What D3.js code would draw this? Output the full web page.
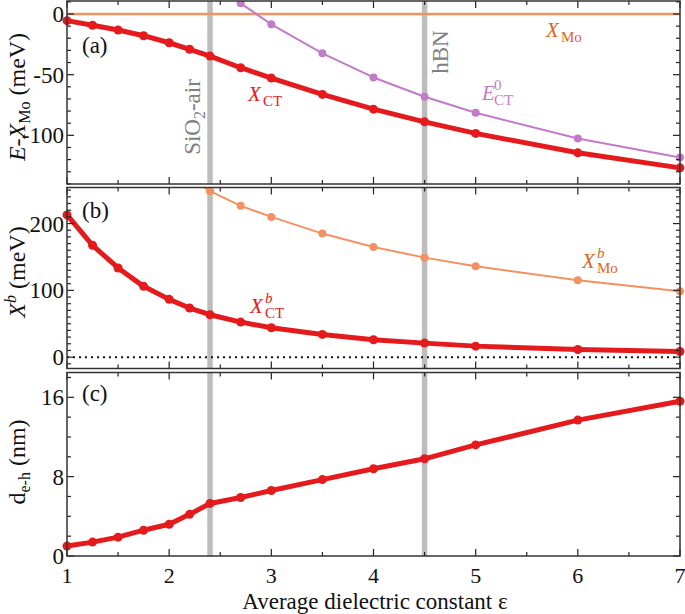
<!DOCTYPE html>
<html><head><meta charset="utf-8">
<script src="https://cdn.jsdelivr.net/npm/d3@7"></script>
<style>
html,body{margin:0;padding:0;background:#fff;}
svg{display:block;font-family:"Liberation Serif","DejaVu Serif",serif;}
</style></head>
<body><svg id="c" width="685" height="614"></svg>
<script>
// ---- data ----
const eps = [1, 1.25, 1.5, 1.75, 2, 2.2, 2.4, 2.7, 3, 3.5, 4, 4.5, 5, 6, 7];
const xCT = [-5.5, -9.3, -13.2, -17.9, -23.7, -29.1, -34.7, -44.3, -52.8, -66.3, -78.4, -88.9, -98.4, -114.4, -126.8];
const eCT0Eps = [2.4, 2.7, 3, 3.5, 4, 4.5, 5, 6, 7];
const eCT0 = [28, 8.8, -8.5, -32.4, -52.3, -68.2, -81.4, -102.6, -118.3];
const xMo = 0;
const xCTb = [213, 167.5, 133.5, 106, 86.5, 73.5, 63.5, 52.5, 44, 34, 26, 21, 16.5, 11.5, 8.5];
const xMobEps = [2.2, 2.4, 2.7, 3, 3.5, 4, 4.5, 5, 6, 7];
const xMob = [268, 248.5, 226.5, 210, 185, 165, 149, 136, 115, 98.5];
const dEH = [1.0, 1.4, 1.9, 2.6, 3.2, 4.2, 5.3, 5.9, 6.6, 7.7, 8.8, 9.8, 11.2, 13.7, 15.6];
const substrates = [2.4, 4.5];
const xTicks = [1, 2, 3, 4, 5, 6, 7];
const xMinor = [1.5, 2.5, 3.5, 4.5, 5.5, 6.5];
const yTicksA = [-100, -50, 0];
const yTicksB = [0, 100, 200];
const yTicksC = [0, 8, 16];

// ---- layout ----
const svg = d3.select("#c");
const L = 67, R = 680;
const x = d3.scaleLinear().domain([1, 7]).range([L, R]);
const red = "#e41a1c", purple = "#c27bc9", orange = "#f29263", orangeTxt = "#e0651b", gray = "#bdbdbd";

const panels = [
  {id: "a", top: 1, bottom: 184, dom: [-140.1, 10.7], major: yTicksA, minorStep: 10, lab: "(a)", labY: 53},
  {id: "b", top: 187.5, bottom: 368.5, dom: [-17, 254], major: yTicksB, minorStep: 10, lab: "(b)", labY: 218},
  {id: "c", top: 372.5, bottom: 556, dom: [0, 18.5], major: yTicksC, minorStep: 2, lab: "(c)", labY: 401}
];
panels.forEach(p => { p.y = d3.scaleLinear().domain(p.dom).range([p.bottom, p.top]); });

const defs = svg.append("defs");
panels.forEach(p => {
  defs.append("clipPath").attr("id", "clip" + p.id).append("rect")
    .attr("x", L - 8).attr("y", p.top).attr("width", R - L + 16).attr("height", p.bottom - p.top);
});

function panelBase(p) {
  const g = svg.append("g");
  g.selectAll(".band").data(substrates).enter().append("line")
    .attr("x1", d => x(d)).attr("x2", d => x(d)).attr("y1", p.top).attr("y2", p.bottom)
    .attr("stroke", gray).attr("stroke-width", 5.5);
  return g;
}
function panelFrame(p) {
  const g = svg.append("g");
  const y = p.y;
  const minor = d3.range(Math.ceil(p.dom[0] / p.minorStep) * p.minorStep, p.dom[1] + 1e-9, p.minorStep);
  [[xTicks, 7], [xMinor, 4]].forEach(([arr, len]) => {
    arr.forEach(t => {
      g.append("line").attr("x1", x(t)).attr("x2", x(t)).attr("y1", p.bottom).attr("y2", p.bottom - len).attr("stroke", "#222").attr("stroke-width", 1.2);
      g.append("line").attr("x1", x(t)).attr("x2", x(t)).attr("y1", p.top).attr("y2", p.top + len).attr("stroke", "#222").attr("stroke-width", 1.2);
    });
  });
  minor.forEach(t => {
    const len = p.major.includes(Math.round(t * 1000) / 1000) ? 7 : 4;
    g.append("line").attr("x1", L).attr("x2", L + len).attr("y1", y(t)).attr("y2", y(t)).attr("stroke", "#222").attr("stroke-width", 1.2);
    g.append("line").attr("x1", R).attr("x2", R - len).attr("y1", y(t)).attr("y2", y(t)).attr("stroke", "#222").attr("stroke-width", 1.2);
  });
  g.append("rect").attr("x", L).attr("y", p.top).attr("width", R - L).attr("height", p.bottom - p.top)
    .attr("fill", "none").attr("stroke", "#333").attr("stroke-width", 1.5);
  g.selectAll(".yl").data(p.major).enter().append("text")
    .attr("x", L - 3).attr("y", d => y(d)).attr("dy", "0.35em").attr("text-anchor", "end")
    .attr("font-size", 23).attr("fill", "#111").text(d => d);
  g.append("text").attr("x", 82).attr("y", p.labY).attr("font-size", 23).attr("fill", "#111").text(p.lab);
}

function series(g, p, xs, ys, color, lw, r) {
  const pts = xs.map((v, i) => [v, ys[i]]);
  const cg = g.append("g").attr("clip-path", `url(#clip${p.id})`);
  cg.append("path").datum(pts)
    .attr("d", d3.line().x(d => x(d[0])).y(d => p.y(d[1])))
    .attr("fill", "none").attr("stroke", color).attr("stroke-width", lw).attr("stroke-linejoin", "round");
  cg.selectAll("circle.m").data(pts).enter().append("circle")
    .attr("cx", d => x(d[0])).attr("cy", d => p.y(d[1])).attr("r", r).attr("fill", color);
}

const [pa, pb, pc] = panels;
let g = panelBase(pa);
g.append("line").attr("x1", L).attr("x2", R).attr("y1", pa.y(xMo)).attr("y2", pa.y(xMo)).attr("stroke", orange).attr("stroke-width", 2.5);
series(g, pa, eCT0Eps, eCT0, purple, 2, 4);
series(g, pa, eps, xCT, red, 5, 4.5);
panelFrame(pa);

g = panelBase(pb);
g.append("line").attr("x1", L).attr("x2", R).attr("y1", pb.y(0)).attr("y2", pb.y(0))
  .attr("stroke", "#111").attr("stroke-width", 2).attr("stroke-dasharray", "2,4");
series(g, pb, xMobEps, xMob, orange, 2, 4);
series(g, pb, eps, xCTb, red, 5, 4.5);
panelFrame(pb);

g = panelBase(pc);
series(g, pc, eps, dEH, red, 5, 4.5);
panelFrame(pc);

svg.selectAll(".xl").data(xTicks).enter().append("text")
  .attr("x", d => x(d)).attr("y", 583).attr("text-anchor", "middle").attr("font-size", 22).attr("fill", "#111").text(d => d);
svg.append("text").attr("x", 375).attr("y", 609).attr("text-anchor", "middle").attr("font-size", 23).attr("fill", "#111")
  .text("Average dielectric constant ε");

function ytitle(cy, build) {
  const t = svg.append("text").attr("transform", `translate(25,${cy}) rotate(-90)`).attr("text-anchor", "middle")
    .attr("font-size", 24).attr("fill", "#111");
  build(t);
}
ytitle(97, t => {
  t.append("tspan").attr("font-style", "italic").text("E");
  t.append("tspan").text("-");
  t.append("tspan").attr("font-style", "italic").text("X");
  t.append("tspan").attr("font-size", 16).attr("dy", 5).text("Mo");
  t.append("tspan").attr("dy", -5).text(" (meV)");
});
ytitle(272, t => {
  t.append("tspan").attr("font-style", "italic").text("X");
  t.append("tspan").attr("font-style", "italic").attr("font-size", 16).attr("dy", -9).text("b");
  t.append("tspan").attr("dy", 9).text(" (meV)");
});
ytitle(462, t => {
  t.append("tspan").text("d");
  t.append("tspan").attr("font-size", 16).attr("dy", 5).text("e-h");
  t.append("tspan").attr("dy", -5).text(" (nm)");
});

svg.append("text").attr("transform", `translate(200,117) rotate(-90)`).attr("text-anchor", "middle")
  .attr("font-size", 23).attr("fill", "#808080")
  .call(t => {
    t.append("tspan").text("SiO");
    t.append("tspan").attr("font-size", 16).attr("dy", 5).text("2");
    t.append("tspan").attr("dy", -5).text("-air");
  });
svg.append("text").attr("transform", `translate(448,52) rotate(-90)`).attr("text-anchor", "middle")
  .attr("font-size", 23).attr("fill", "#808080").text("hBN");

function label(xp, yp, main, sub, sup, color) {
  const t = svg.append("text").attr("x", xp).attr("y", yp).attr("font-size", 21).attr("fill", color);
  t.append("tspan").attr("font-style", "italic").text(main);
  const tx = xp + (main === "E" ? 12 : 15);
  if (sup) t.append("tspan").attr("x", tx).attr("y", yp - 10).attr("font-size", 15).attr("font-style", sup === "b" ? "italic" : "normal").text(sup);
  t.append("tspan").attr("x", tx).attr("y", yp + 5).attr("font-size", 15).text(sub);
}
label(248, 101, "X", "CT", null, red);
label(482, 100, "E", "CT", "0", purple);
label(546, 37, "X", "Mo", null, orangeTxt);
label(250, 313, "X", "CT", "b", red);
label(582, 268, "X", "Mo", "b", orangeTxt);
</script></body></html>
